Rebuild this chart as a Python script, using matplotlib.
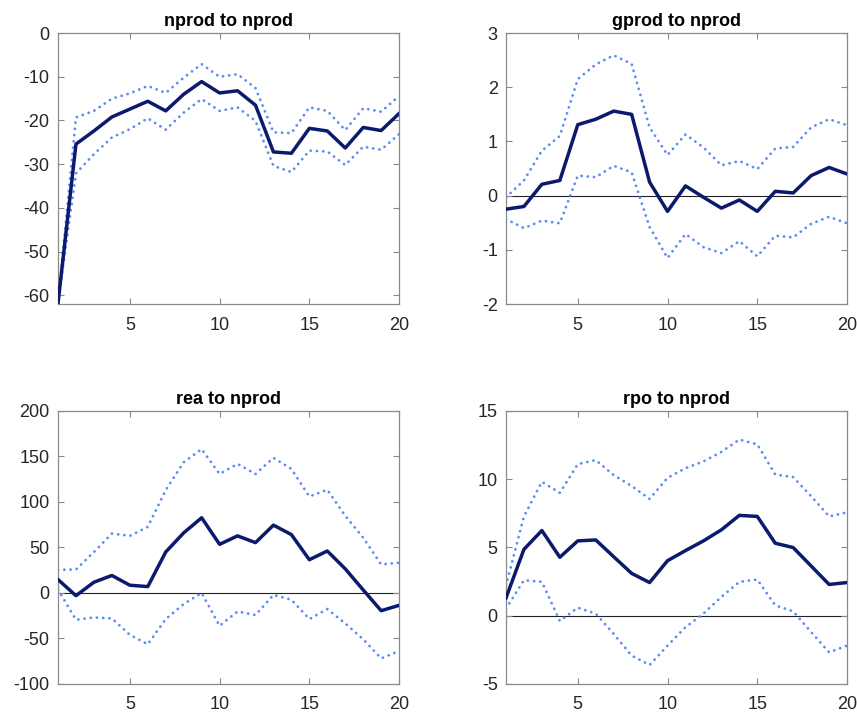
import matplotlib.pyplot as plt
import numpy as np

plt.rcParams['font.family'] = ['Liberation Sans', 'DejaVu Sans']
plt.rcParams['axes.unicode_minus'] = False

horizon = np.arange(1, 21)

# nprod to nprod
nprod_med = [-61.8, -25.4, -22.4, -19.2, -17.4, -15.6, -17.8, -14.0, -11.1, -13.7,
             -13.2, -16.5, -27.2, -27.5, -21.8, -22.4, -26.3, -21.6, -22.3, -18.4]
nprod_hi = [-61.8, -19.3, -17.8, -15.0, -13.8, -12.1, -13.7, -10.2, -7.1, -10.0,
            -9.4, -12.6, -22.7, -22.9, -17.0, -17.8, -22.2, -17.2, -18.0, -14.4]
nprod_lo = [-61.8, -32.1, -27.7, -23.9, -22.0, -19.5, -22.1, -18.2, -15.1, -17.8,
            -17.0, -20.1, -30.4, -31.8, -26.9, -27.1, -30.2, -26.0, -26.7, -23.1]

# gprod to nprod
gprod_med = [-0.25, -0.20, 0.21, 0.28, 1.31, 1.41, 1.56, 1.50, 0.25, -0.29,
             0.18, -0.03, -0.23, -0.08, -0.29, 0.08, 0.05, 0.37, 0.52, 0.40]
gprod_hi = [-0.03, 0.28, 0.83, 1.10, 2.15, 2.42, 2.59, 2.43, 1.26, 0.75,
            1.13, 0.89, 0.56, 0.64, 0.49, 0.87, 0.90, 1.26, 1.41, 1.30]
gprod_lo = [-0.43, -0.60, -0.46, -0.51, 0.37, 0.34, 0.55, 0.43, -0.58, -1.15,
            -0.71, -0.95, -1.06, -0.84, -1.12, -0.74, -0.77, -0.52, -0.39, -0.51]

# rea to nprod
rea_med = [14.7, -3.0, 11.8, 19.2, 8.5, 7.0, 45.0, 66.0, 82.6, 53.4,
           62.7, 55.3, 74.5, 64.1, 36.5, 46.1, 26.5, 3.3, -19.5, -13.6]
rea_hi = [25.4, 25.8, 45.0, 65.2, 62.7, 72.6, 113.0, 143.6, 158.0, 130.7,
          141.7, 130.7, 148.4, 136.2, 106.0, 113.4, 84.7, 60.7, 31.3, 33.2]
rea_lo = [3.7, -29.5, -26.9, -28.0, -46.0, -56.4, -28.7, -12.2, 0.0, -36.1,
          -20.3, -24.3, -2.2, -7.4, -28.7, -17.7, -33.5, -50.9, -71.9, -63.8]

# rpo to nprod
rpo_med = [1.3, 4.86, 6.24, 4.28, 5.48, 5.55, 4.32, 3.10, 2.43, 4.03,
           4.77, 5.48, 6.29, 7.35, 7.27, 5.31, 4.99, 3.64, 2.29, 2.43]
rpo_hi = [2.2, 7.27, 9.8, 9.0, 11.1, 11.4, 10.3, 9.5, 8.55, 10.1,
          10.8, 11.3, 12.0, 12.9, 12.55, 10.34, 10.15, 8.75, 7.27, 7.57]
rpo_lo = [0.52, 2.6, 2.48, -0.39, 0.59, 0.15, -1.33, -2.92, -3.61, -2.19,
          -0.84, 0.15, 1.38, 2.48, 2.65, 0.76, 0.32, -1.2, -2.68, -2.19]

panels = [
    ('nprod to nprod', nprod_med, nprod_hi, nprod_lo, (-62, 0), [-60, -50, -40, -30, -20, -10, 0], False),
    ('gprod to nprod', gprod_med, gprod_hi, gprod_lo, (-2, 3), [-2, -1, 0, 1, 2, 3], True),
    ('rea to nprod', rea_med, rea_hi, rea_lo, (-100, 200), [-100, -50, 0, 50, 100, 150, 200], True),
    ('rpo to nprod', rpo_med, rpo_hi, rpo_lo, (-5, 15), [-5, 0, 5, 10, 15], True),
]

# axes rectangles in figure fractions
positions = [
    [0.0677, 0.5736, 0.398, 0.380],
    [0.5904, 0.5736, 0.398, 0.380],
    [0.0677, 0.0407, 0.398, 0.383],
    [0.5904, 0.0407, 0.398, 0.383],
]

MED_COLOR = '#0c1a6e'
BAND_COLOR = '#5a8df0'
AX_COLOR = '#8a8a8a'
TXT_COLOR = '#262626'

fig = plt.figure(figsize=(8.57, 7.13), dpi=100)

for (title, med, hi, lo, ylim, yticks, zero_line), pos in zip(panels, positions):
    ax = fig.add_axes(pos)
    if zero_line:
        ax.axhline(0, color='#222222', linewidth=0.8, zorder=1)
    for band in (hi, lo):
        # round-capped zero-length dashes give a dotted look
        ax.plot(horizon, band, color=BAND_COLOR, linewidth=2.0,
                linestyle=(0, (0.05, 2.2)), dash_capstyle='round', zorder=2)
    ax.plot(horizon, med, color=MED_COLOR, linewidth=2.5, zorder=3)

    ax.set_xlim(1, 20)
    ax.set_ylim(*ylim)
    ax.set_xticks([5, 10, 15, 20])
    ax.set_yticks(yticks)
    ax.tick_params(direction='in', length=4, width=0.8, color=AX_COLOR,
                   labelcolor=TXT_COLOR, labelsize=13, top=True, right=True)
    ax.tick_params(axis='x', pad=9)
    ax.tick_params(axis='y', pad=6)
    for spine in ax.spines.values():
        spine.set_color(AX_COLOR)
        spine.set_linewidth(0.9)
    ax.set_title(title, fontsize=13, fontweight='bold', color='black', pad=5)

fig.savefig('out.png', dpi=100, facecolor='white')
